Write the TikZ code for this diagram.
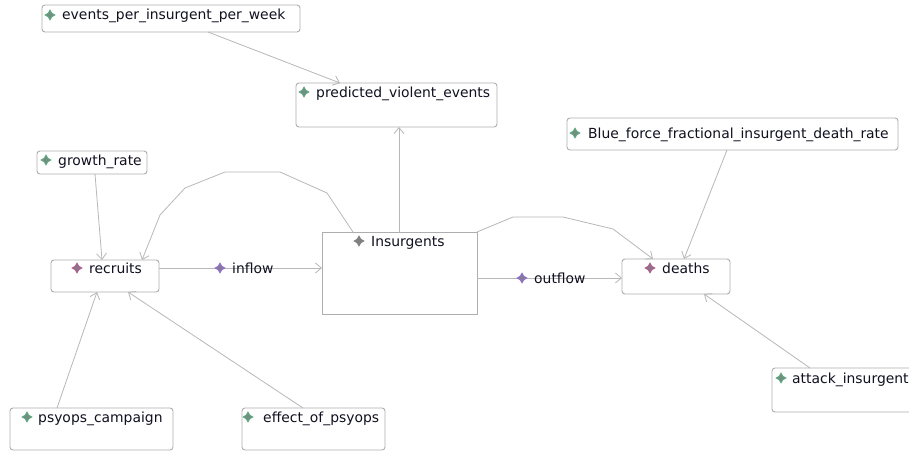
\documentclass[tikz,border=0pt]{standalone}
\usepackage{fontspec}
\setmainfont{DejaVu Sans}
\usetikzlibrary{calc,arrows.meta}

\definecolor{boxline}{HTML}{AEAEAE}
\definecolor{linkline}{HTML}{B8B8B8}
\definecolor{txt}{HTML}{101020}
\definecolor{auxcol}{HTML}{5FA581}
\definecolor{flowvar}{HTML}{A8608E}
\definecolor{ratecol}{HTML}{9070C8}
\definecolor{stockcol}{HTML}{808080}

\tikzset{
  varbox/.style={draw=boxline, line width=0.9pt, rounded corners=3pt,
    inner sep=0pt, outer sep=0pt, fill=white},
  stockbox/.style={draw=boxline, line width=0.9pt,
    inner sep=0pt, outer sep=0pt, fill=white},
  lbl/.style={text=txt, inner sep=0pt, font=\fontsize{13.9}{16}\selectfont},
  conn/.style={draw=linkline, line width=0.8pt,
    -{Straight Barb[length=6pt,width=10pt,line width=0.8pt]}},
}

% four-pointed star marker: #1,#2 centre, #3 outline colour
\newcommand{\staricon}[3]{%
  \filldraw[draw=#3, fill=#3!35!gray, line width=1.1pt, line join=miter]
    (#1,#2) +(0,-4.6) -- +(1.7,-1.7) -- +(4.6,0) -- +(1.7,1.7) -- +(0,4.6)
    -- +(-1.7,1.7) -- +(-4.6,0) -- +(-1.7,-1.7) -- cycle;}

\begin{document}
\begin{tikzpicture}[x=1pt,y=-1pt]
\useasboundingbox (0,0) rectangle (909,452);
\clip (0,0) rectangle (909,452);
\fill[white] (0,0) rectangle (909,452);

% ---- boxes ----
\node[varbox, anchor=north west, minimum width=258pt, minimum height=27pt] (ev) at (42,5) {};
\node[varbox, anchor=north west, minimum width=201pt, minimum height=44pt] (pv) at (296,83) {};
\node[varbox, anchor=north west, minimum width=110pt, minimum height=23pt] (gr) at (37,151) {};
\node[varbox, anchor=north west, minimum width=108pt, minimum height=32pt] (rc) at (51,260) {};
\node[stockbox, anchor=north west, minimum width=155pt, minimum height=82pt] (ins) at (322,232) {};
\node[varbox, anchor=north west, minimum width=108pt, minimum height=35pt] (dt) at (622,259) {};
\node[varbox, anchor=north west, minimum width=331pt, minimum height=32pt] (bf) at (567,118) {};
\node[varbox, anchor=north west, minimum width=163pt, minimum height=42pt] (pc) at (10,408) {};
\node[varbox, anchor=north west, minimum width=143pt, minimum height=42pt] (ep) at (242,408) {};
\node[varbox, anchor=north west, minimum width=160pt, minimum height=44pt] (at) at (772,368) {};

% ---- links ----
\draw[conn] ($(ev.south west)+(166,0)$) -- ($(pv.north west)+(44,0)$);
\draw[conn] ($(ins.north west)+(77,0)$) -- ($(pv.south west)+(103,0)$);
\draw[conn] ($(gr.south west)+(58,0)$) -- ($(rc.north west)+(51,0)$);
\draw[conn] ($(ins.north west)+(31,0)$) -- (327,193) -- (280,172) -- (225,172)
  -- (185,188) -- (160,215) -- ($(rc.north east)+(-17,0)$);
\draw[conn] (ins.north east) -- (513,217) -- (563,217) -- (613,229)
  -- ($(dt.north west)+(31,0)$);
\draw[conn] ($(bf.south west)+(160,0)$) -- ($(dt.north west)+(62,0)$);
\draw[conn] ($(at.north west)+(38,0)$) -- ($(dt.south west)+(82,0)$);
\draw[conn] ($(pc.north west)+(47,0)$) -- ($(rc.south west)+(46,0)$);
\draw[conn] ($(ep.north west)+(61,0)$) -- ($(rc.south west)+(77,0)$);

% ---- flows ----
\draw[conn] ($(rc.north east)+(0,8)$) -- ($(ins.north west)+(0,36)$);
\draw[conn] ($(ins.north east)+(0,46)$) -- ($(dt.north west)+(0,19)$);

% ---- markers and labels ----
\staricon{50}{15}{auxcol}
\node[lbl, anchor=base west] (evt) at (62,20) {events\_per\_insurgent\_per\_week};
\staricon{304}{92}{auxcol}
\node[lbl, anchor=base west] (pvt) at (316,97) {predicted\_violent\_events};
\staricon{46}{160}{auxcol}
\node[lbl, anchor=base west] (grt) at (58,165) {growth\_rate};
\staricon{77}{268}{flowvar}
\node[lbl, anchor=base west] (rct) at (89,273) {recruits};
\staricon{359}{241}{stockcol}
\node[lbl, anchor=base west] (inst) at (371,246) {Insurgents};
\staricon{650}{268}{flowvar}
\node[lbl, anchor=base west] (dtt) at (662,273) {deaths};
\staricon{575}{133}{auxcol}
\node[lbl, anchor=base west] (bft) at (588,138) {Blue\_force\_fractional\_insurgent\_death\_rate};
\staricon{27}{417}{auxcol}
\node[lbl, anchor=base west] (pct) at (38,422) {psyops\_campaign};
\staricon{248}{417}{auxcol}
\node[lbl, anchor=base west] (ept) at (263,422) {effect\_of\_psyops};
\staricon{781}{378}{auxcol}
\node[lbl, anchor=base west] (att) at (792,383) {attack\_insurgent};

\staricon{220}{268}{ratecol}
\node[lbl, anchor=base west] (inf) at (232,273) {inflow};
\staricon{522}{278}{ratecol}
\node[lbl, anchor=base west] (outf) at (534,283) {outflow};
\end{tikzpicture}
\end{document}
